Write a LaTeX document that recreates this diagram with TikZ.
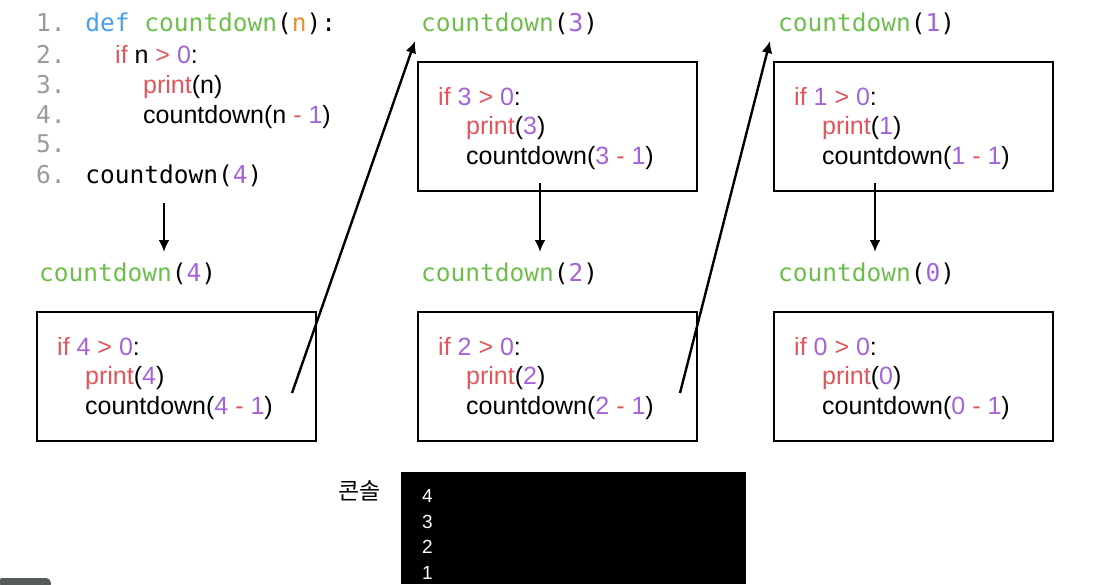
\documentclass[tikz,border=0pt]{standalone}
\usepackage{fontspec}
\setmainfont{Liberation Sans}
\newfontfamily\codefont{DejaVu Sans Mono}
\newfontfamily\krfont{Noto Sans CJK KR}
\usetikzlibrary{arrows.meta}

\definecolor{pyGreen}{HTML}{6DBF4B}
\definecolor{pyPurple}{HTML}{A463D9}
\definecolor{pyRed}{HTML}{E0565C}
\definecolor{pyBlue}{HTML}{4A9FE8}
\definecolor{pyOrange}{HTML}{E8902E}
\definecolor{lineGray}{HTML}{9A9A9A}
\definecolor{barGray}{HTML}{555A5A}

\newcommand{\cRed}[1]{\textcolor{pyRed}{#1}}
\newcommand{\cPur}[1]{\textcolor{pyPurple}{#1}}
\newcommand{\cGrn}[1]{\textcolor{pyGreen}{#1}}
\newcommand{\cBlu}[1]{\textcolor{pyBlue}{#1}}
\newcommand{\cOrg}[1]{\textcolor{pyOrange}{#1}}
\newcommand{\cBlk}[1]{\textcolor{black}{#1}}
\newcommand{\cGry}[1]{\textcolor{lineGray}{#1}}

% one call frame: name, left x, top y, argument value
\newcommand{\callframe}[4]{%
  \node[frame] (#1) at ({#2+139.5},{#3+64.5}) {};
  \node[codeline] (#1-if) at ({#2+20},{#3+43}) {\cRed{if} \cPur{#4} \cRed{>} \cPur{0}:};
  \node[codeline] (#1-print) at ({#2+48},{#3+72.5}) {\cRed{print}(\cPur{#4})};
  \node[codeline] (#1-call) at ({#2+48},{#3+102}) {countdown(\cPur{#4} \cRed{-} \cPur{1})};
}

\begin{document}
\begin{tikzpicture}[x=1pt,y=-1pt,
  mono/.style={anchor=base west, inner sep=0pt, font=\codefont\fontsize{24.5}{29}\selectfont},
  header/.style={mono, text=pyGreen},
  codeline/.style={anchor=base west, inner sep=0pt, font=\fontsize{25}{30}\selectfont},
  frame/.style={draw, line width=2.2pt, minimum width=279pt, minimum height=129pt, inner sep=0pt},
  arr/.style={line width=2.4pt, -{Latex[length=12pt,width=11pt]}},
  console/.style={fill=black, minimum width=345pt, minimum height=112pt, inner sep=0pt},
  outdigit/.style={anchor=base west, inner sep=0pt, text=white, font=\fontsize{19}{21}\selectfont}]

\useasboundingbox (0,0) rectangle (1103,584);
\fill[white] (0,0) rectangle (1103,584);

% source listing
\node[mono] (l1) at (36,31) {\cGry{1.} \cBlu{def} \cGrn{countdown}(\cOrg{n}):};
\node[mono] (l2) at (36,63) {\cGry{2.}};
\node[mono] (l3) at (36,93) {\cGry{3.}};
\node[mono] (l4) at (36,123) {\cGry{4.}};
\node[mono] (l5) at (36,152.5) {\cGry{5.}};
\node[mono] (l6) at (36,183) {\cGry{6.} countdown(\cPur{4})};
\node[codeline] (c2) at (115,63) {\cRed{if} n \cRed{>} \cPur{0}:};
\node[codeline] (c3) at (143,93) {\cRed{print}(n)};
\node[codeline] (c4) at (143,123) {countdown(n \cRed{-} \cPur{1})};

% call headers
\node[header] (h4) at (39,281) {countdown\cBlk{(}\cPur{4}\cBlk{)}};
\node[header] (h3) at (421,31) {countdown\cBlk{(}\cPur{3}\cBlk{)}};
\node[header] (h2) at (421,281) {countdown\cBlk{(}\cPur{2}\cBlk{)}};
\node[header] (h1) at (778,31) {countdown\cBlk{(}\cPur{1}\cBlk{)}};
\node[header] (h0) at (778,281) {countdown\cBlk{(}\cPur{0}\cBlk{)}};

% call frames
\callframe{fA}{37}{312}{4}
\callframe{fB}{418}{62}{3}
\callframe{fC}{418}{312}{2}
\callframe{fD}{774}{62}{1}
\callframe{fE}{774}{312}{0}

% connector end points
\coordinate (sA) at (164,203);  \coordinate (tA) at (164,252);
\coordinate (sB) at (540,183);  \coordinate (tB) at (540,252);
\coordinate (sD) at (875,183);  \coordinate (tD) at (875,252);
\coordinate (uA) at (292,393);  \coordinate (vA) at (415,41);
\coordinate (uC) at (680,393);  \coordinate (vC) at (770,41);

\draw[arr] (sA) -- (tA);
\draw[arr] (sB) -- (tB);
\draw[arr] (sD) -- (tD);
\draw[arr] (uA) -- (vA);
\draw[arr] (uC) -- (vC);

% console output
\node[anchor=base east, inner sep=0pt, font=\krfont\fontsize{23}{26}\selectfont] (conlabel) at (381,499) {콘솔};
\node[console] (con) at (573.5,528) {};
\node[outdigit] (o4) at (422,502) {4};
\node[outdigit] (o3) at (422,528) {3};
\node[outdigit] (o2) at (422,553.5) {2};
\node[outdigit] (o1) at (422,579) {1};

% player bar corner
\fill[barGray, rounded corners=2pt] (0,578) -- (48,578) -- (51,581) -- (51,586) -- (0,586) -- cycle;
\end{tikzpicture}
\end{document}
